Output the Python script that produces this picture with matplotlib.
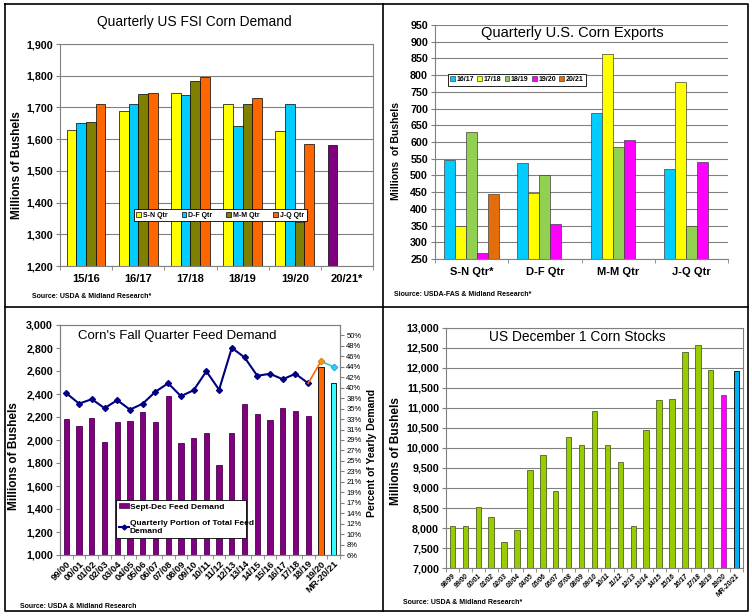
import matplotlib
matplotlib.use("Agg")
import matplotlib.pyplot as plt
import numpy as np
from matplotlib.lines import Line2D

plt.rcParams['font.family'] = ['Liberation Sans', 'DejaVu Sans']

# ---- panel 1: quarterly FSI demand
fsi_years = ["15/16", "16/17", "17/18", "18/19", "19/20", "20/21*"]
fsi_sn = [1630, 1690, 1745, 1710, 1627, 1580]
fsi_df = [1651, 1711, 1740, 1641, 1711, 0]
fsi_mm = [1654, 1742, 1782, 1712, 1340, 0]
fsi_jq = [1710, 1745, 1795, 1729, 1585, 0]

# ---- panel 2: quarterly exports
exp_quarters = ["S-N Qtr*", "D-F Qtr", "M-M Qtr", "J-Q Qtr"]
exp_1617 = [547, 538, 686, 520]
exp_1718 = [350, 448, 862, 779]
exp_1819 = [630, 500, 585, 350]
exp_1920 = [269, 355, 606, 540]
exp_2021 = [445, 0, 0, 0]

# ---- panel 3: fall quarter feed demand
feed_years = ["99/00", "00/01", "01/02", "02/03", "03/04", "04/05", "05/06", "06/07",
              "07/08", "08/09", "09/10", "10/11", "11/12", "12/13", "13/14", "14/15",
              "15/16", "16/17", "17/18", "18/19", "19/20", "MR-20/21"]
feed_bu = [2180, 2120, 2195, 1980, 2160, 2165, 2240, 2160, 2385, 1975, 2015, 2065,
           1785, 2060, 2310, 2225, 2175, 2275, 2255, 2205, 2635, 2500]
feed_pct = [38.5, 36.4, 37.3, 35.5, 37.1, 35.2, 36.4, 38.8, 40.5, 37.9, 39.1, 42.9,
            39.2, 47.6, 45.7, 42.0, 42.4, 41.3, 42.4, 40.5, 44.9, 43.8]

# ---- panel 4: Dec 1 stocks
stk_years = ["98/99", "99/00", "00/01", "01/02", "02/03", "03/04", "04/05", "05/06",
             "06/07", "07/08", "08/09", "09/10", "10/11", "11/12", "12/13", "13/14",
             "14/15", "15/16", "16/17", "17/18", "18/19", "19/20", "MR-20/21"]
stk_bu = [8050, 8050, 8520, 8270, 7650, 7950, 9450, 9820, 8930, 10270, 10070, 10920,
          10070, 9650, 8050, 10450, 11200, 11220, 12390, 12570, 11950, 11330, 11920]

W, H = 752, 616
fig = plt.figure(figsize=(W / 100, H / 100), dpi=100)


def px_axes(x0, y0, x1, y1):
    return fig.add_axes([x0 / W, 1 - y1 / H, (x1 - x0) / W, (y1 - y0) / H])


def px_text(x, y, s, **kw):
    # place text by pixel position measured from top-left
    return fig.text(x / W, 1 - y / H, s, **kw)


def style_axes(ax, grid=True):
    for s in ax.spines.values():
        s.set_color('#808080')
        s.set_linewidth(0.8)
    if grid:
        ax.yaxis.grid(True, color='#808080', linewidth=0.8)
        ax.set_axisbelow(True)
    ax.tick_params(axis='y', labelsize=7.7, length=3, color='#808080', pad=2)
    for t in ax.get_yticklabels():
        t.set_fontweight('bold')


def cat_ticks(ax, n):
    ax.set_xlim(-0.5, n - 0.5)
    ax.set_xticks(np.arange(n))
    ax.set_xticks(np.arange(n + 1) - 0.5, minor=True)
    ax.tick_params(axis='x', which='major', length=0)
    ax.tick_params(axis='x', which='minor', length=3, color='#808080')


bold = dict(fontweight='bold')
ylab = dict(rotation=90, ha='center', va='center', fontweight='bold')

# ================= panel 1
ax1 = px_axes(60, 44, 373, 266)
x = np.arange(len(fsi_years))
bw = 0.185
sn_colors = ['#FFFF00'] * 5 + ['#800080']
series1 = [(fsi_sn, sn_colors, 'S-N Qtr'), (fsi_df, '#00CCFF', 'D-F Qtr'),
           (fsi_mm, '#808000', 'M-M Qtr'), (fsi_jq, '#FF6600', 'J-Q Qtr')]
handles1 = []
for i, (vals, col, lab) in enumerate(series1):
    ax1.bar(x + (i - 1.5) * bw, vals, bw, color=col, edgecolor='black', linewidth=0.5)
    handles1.append(plt.Rectangle((0, 0), 1, 1, fc=col if isinstance(col, str) else col[0],
                                  ec='black', lw=0.5, label=lab))
ax1.set_ylim(1200, 1900)
ax1.set_yticks(range(1200, 1901, 100))
ax1.set_yticklabels([f"{v:,}" for v in range(1200, 1901, 100)])
cat_ticks(ax1, len(fsi_years))
ax1.set_xticklabels(fsi_years, fontsize=8, fontweight='bold')
ax1.tick_params(axis='x', which='major', pad=6)
style_axes(ax1)
px_text(17, 165, "Millions of Bushels", fontsize=8.5, **ylab)
leg1 = ax1.legend(handles=handles1, loc='lower left', bbox_to_anchor=(0.224, 0.185, 0.575, 0.058),
                  mode='expand', ncol=4, prop=dict(size=5, weight='bold'), handlelength=0.7,
                  handleheight=0.7, handletextpad=0.2, borderpad=0.4, fancybox=False,
                  edgecolor='black', framealpha=1)
leg1.get_frame().set_linewidth(0.6)
px_text(194, 22, "Quarterly US FSI Corn Demand", fontsize=9.9, ha='center', va='center')
px_text(32, 296, "Source: USDA & Midland Research*", fontsize=5, va='center', **bold)

# ================= panel 2
ax2 = px_axes(435, 25, 728, 259)
x = np.arange(len(exp_quarters))
bw = 0.15
series2 = [(exp_1617, '#00CCFF', '16/17'), (exp_1718, '#FFFF00', '17/18'),
           (exp_1819, '#92D050', '18/19'), (exp_1920, '#FF00FF', '19/20'),
           (exp_2021, '#E46C0A', '20/21')]
for i, (vals, col, lab) in enumerate(series2):
    ax2.bar(x + (i - 2) * bw, vals, bw, color=col, edgecolor='#404040', linewidth=0.5, label=lab)
ax2.set_ylim(250, 950)
ax2.set_yticks(range(250, 951, 50))
cat_ticks(ax2, len(exp_quarters))
ax2.set_xticklabels(exp_quarters, fontsize=8, fontweight='bold')
ax2.tick_params(axis='x', which='major', pad=6)
style_axes(ax2)
ax2.spines['top'].set_visible(False)
ax2.spines['right'].set_visible(False)
px_text(396, 151, "Millions  of Bushels", fontsize=7.5, **ylab)
leg2 = ax2.legend(loc='lower left', bbox_to_anchor=(0.031, 0.726, 0.495, 0.052), mode='expand',
                  ncol=5, prop=dict(size=5, weight='bold'), handlelength=0.7, handleheight=0.7,
                  handletextpad=0.2, columnspacing=0.4, borderpad=0.35, fancybox=False,
                  edgecolor='black', framealpha=1)
leg2.get_frame().set_linewidth(0.6)
ax2.text(0.157, 0.966, "Quarterly U.S. Corn Exports", transform=ax2.transAxes, fontsize=10.5,
         va='center', ha='left')
px_text(394, 295, "Siource: USDA-FAS & Midland Research*", fontsize=5, va='center', **bold)

# ================= panel 3
ax3 = px_axes(60, 325, 340, 555)
x = np.arange(len(feed_years))
n_hist = len(feed_years) - 2
feed_colors = ['#800080'] * n_hist + ['#FF6600', '#33FFFF']
feed_edges = ['#4d004d'] * n_hist + ['black', 'black']
ax3.bar(x, feed_bu, 0.42, color=feed_colors, edgecolor=feed_edges, linewidth=0.6)
ax3.set_ylim(1000, 3000)
ax3.set_yticks(range(1000, 3001, 200))
ax3.set_yticklabels([f"{v:,}" for v in range(1000, 3001, 200)])
cat_ticks(ax3, len(feed_years))
ax3.set_xticklabels(feed_years, fontsize=6.7, fontweight='bold', rotation=45, ha='right',
                    rotation_mode='anchor')
ax3.tick_params(axis='x', which='major', pad=3)
style_axes(ax3, grid=False)
px_text(14, 456, "Millions of Bushels", fontsize=8.5, **ylab)

ax3b = ax3.twinx()
pct = np.array(feed_pct) / 100
ax3b.plot(x[:n_hist], pct[:n_hist], color='#000080', lw=1.5, marker='D', ms=3)
ax3b.plot(x[n_hist - 1:n_hist + 1], pct[n_hist - 1:n_hist + 1], color='#FF6600', lw=1.2)
ax3b.plot(x[n_hist:], pct[n_hist:], color='#33CCCC', lw=1.2)
ax3b.plot(x[n_hist], pct[n_hist], marker='D', ms=3.5, color='#FF9900', mec='#CC6600', mew=0.5)
ax3b.plot(x[n_hist + 1], pct[n_hist + 1], marker='D', ms=3.5, color='#33CCFF', mec='#0099CC', mew=0.5)
pct_ticks = [0.06 + 0.021 * i for i in range(22)]
ax3b.set_ylim(0.06, 0.522)
ax3b.set_yticks(pct_ticks)
ax3b.set_yticklabels([f"{int(v * 100 + 0.5)}%" for v in pct_ticks], fontsize=5.5)
ax3b.tick_params(axis='y', length=3, color='#808080', pad=1.5)
for s in ax3b.spines.values():
    s.set_color('#808080')
px_text(372, 453, "Percent of Yearly Demand", fontsize=7.5, **ylab)
h3 = [plt.Rectangle((0, 0), 1, 1, fc='#800080', ec='#4d004d', lw=0.5),
      Line2D([], [], color='#000080', lw=1.5, marker='D', ms=2.5)]
leg3 = ax3b.legend(h3, ["Sept-Dec Feed Demand", "Quarterly Portion of Total Feed\nDemand"],
                   loc='lower left', bbox_to_anchor=(0.186, 0.057, 0.493, 0.191), mode='expand',
                   prop=dict(size=6, weight='bold'), handlelength=1.2, handleheight=0.6,
                   handletextpad=0.1, labelspacing=1.1, borderpad=0.35, fancybox=False,
                   edgecolor='black', framealpha=1)
leg3.get_frame().set_linewidth(0.6)
ax3.text(0.064, 0.952, "Corn's Fall Quarter Feed Demand", transform=ax3.transAxes, fontsize=9.5,
         va='center', ha='left', zorder=5)
px_text(20, 606, "Source: USDA & Midland Research", fontsize=5, va='center', **bold)

# ================= panel 4
ax4 = px_axes(446, 328, 743, 568)
x = np.arange(len(stk_years))
n_hist = len(stk_years) - 2
stk_colors = ['#99CC00'] * n_hist + ['#FF00FF', '#00B0F0']
stk_edges = ['#4F6228'] * n_hist + ['#993399', 'black']
ax4.bar(x, stk_bu, 0.42, color=stk_colors, edgecolor=stk_edges, linewidth=0.6)
ax4.set_ylim(7000, 13000)
ax4.set_yticks(range(7000, 13001, 500))
ax4.set_yticklabels([f"{v:,}" for v in range(7000, 13001, 500)])
cat_ticks(ax4, len(stk_years))
ax4.set_xticklabels(stk_years, fontsize=4.9, fontweight='bold', fontstyle='italic', rotation=45,
                    ha='right', rotation_mode='anchor')
ax4.tick_params(axis='x', which='major', pad=3)
style_axes(ax4)
px_text(396, 451, "Millions of Bushels", fontsize=8.5, **ylab)
ax4.text(0.145, 0.9625, "US December 1 Corn Stocks", transform=ax4.transAxes, fontsize=9.9,
         va='center', ha='left')
px_text(403, 603, "Source: USDA & Midland Research*", fontsize=5, va='center', **bold)

# ---- panel borders
frame = dict(color='black', lw=1.2, transform=fig.transFigure)
fig.add_artist(Line2D([5 / W, 748 / W, 748 / W, 5 / W, 5 / W],
                      [1 - 4 / H, 1 - 4 / H, 1 - 611 / H, 1 - 611 / H, 1 - 4 / H], **frame))
fig.add_artist(Line2D([383 / W, 383 / W], [1 - 4 / H, 1 - 611 / H], **frame))
fig.add_artist(Line2D([5 / W, 748 / W], [1 - 307 / H, 1 - 307 / H], **frame))

fig.savefig("out.png", dpi=100)
